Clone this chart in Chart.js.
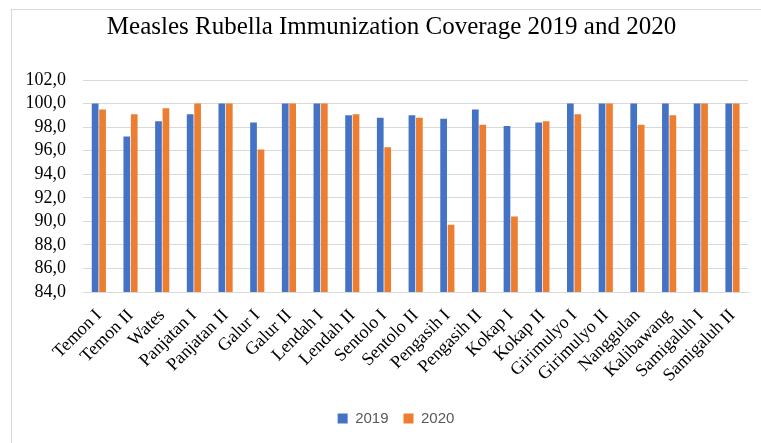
<!DOCTYPE html>
<html>
<head>
<meta charset="utf-8">
<script src="https://cdn.jsdelivr.net/npm/chart.js@4"></script>
<style>
  html, body { margin: 0; padding: 0; background: #fff; }
  #wrap { position: relative; width: 761px; height: 443px; overflow: hidden; }
  #frame { position: absolute; left: 11px; top: 9px; width: 800px; height: 500px; border: 1px solid #d9d9d9; box-sizing: border-box; }
  #title { position: absolute; left: 0; top: 11px; width: 783px; text-align: center; font-family: "Liberation Serif", "Times New Roman", serif; font-size: 25px; line-height: 30px; color: #000; white-space: nowrap; }
  canvas { position: absolute; left: 0; top: 0; }
</style>
</head>
<body>
<div id="wrap">
  <div id="frame"></div>
  <canvas id="c" width="761" height="443"></canvas>
  <div id="title"></div>
</div>
<script>
const chartTitle = 'Measles Rubella Immunization Coverage 2019 and 2020';
const categories = ['Temon I', 'Temon II', 'Wates', 'Panjatan I', 'Panjatan II', 'Galur I', 'Galur II', 'Lendah I', 'Lendah II', 'Sentolo I', 'Sentolo II', 'Pengasih I', 'Pengasih II', 'Kokap I', 'Kokap II', 'Girimulyo I', 'Girimulyo II', 'Nanggulan', 'Kalibawang', 'Samigaluh I', 'Samigaluh II'];
const seriesNames = ['2019', '2020'];
const values2019 = [100, 97.2, 98.5, 99.1, 100, 98.4, 100, 100, 99.0, 98.8, 99.0, 98.7, 99.5, 98.1, 98.4, 100, 100, 100, 100, 100, 100];
const values2020 = [99.5, 99.1, 99.6, 100, 100, 96.1, 100, 100, 99.1, 96.3, 98.8, 89.7, 98.2, 90.4, 98.5, 99.1, 100, 98.2, 99.0, 100, 100];
const yTickValues = [84, 86, 88, 90, 92, 94, 96, 98, 100, 102];
const yTickLabels = ['84,0', '86,0', '88,0', '90,0', '92,0', '94,0', '96,0', '98,0', '100,0', '102,0'];

document.getElementById('title').textContent = chartTitle;

const shiftLegend = {
  id: 'shiftLegend',
  afterLayout(chart) {
    if (chart.legend) { chart.legend.left += 15; chart.legend.right += 15; }
  }
};

new Chart(document.getElementById('c'), {
  type: 'bar',
  data: {
    labels: categories,
    datasets: [
      { label: seriesNames[0], data: values2019, backgroundColor: '#4472C4', borderWidth: 0,
        barPercentage: 0.9, categoryPercentage: 0.47 },
      { label: seriesNames[1], data: values2020, backgroundColor: '#ED7D31', borderWidth: 0,
        barPercentage: 0.9, categoryPercentage: 0.47 }
    ]
  },
  plugins: [shiftLegend],
  options: {
    responsive: false,
    animation: false,
    devicePixelRatio: 1,
    layout: { padding: { left: 11, right: 10, top: 80, bottom: 7 } },
    plugins: {
      tooltip: { enabled: false },
      title: { display: false },
      legend: {
        position: 'bottom',
        labels: {
          color: '#595959',
          font: { family: '"Liberation Sans", Arial, sans-serif', size: 15 },
          boxWidth: 10, boxHeight: 10, padding: 15
        }
      }
    },
    scales: {
      x: {
        grid: { display: false, drawTicks: false },
        border: { display: true, color: '#d9d9d9' },
        ticks: {
          color: '#000',
          font: { family: '"Liberation Serif", "Times New Roman", serif', size: 18 },
          minRotation: 45, maxRotation: 45, autoSkip: false, padding: 13
        },
        afterFit: (axis) => { axis.height = 104; }
      },
      y: {
        min: 84, max: 102,
        afterBuildTicks: (axis) => { axis.ticks = yTickValues.map(v => ({ value: v })); },
        grid: { color: '#d9d9d9', drawTicks: false },
        border: { display: false },
        ticks: {
          color: '#000',
          autoSkip: false,
          font: { family: '"Liberation Serif", "Times New Roman", serif', size: 18 },
          padding: 17,
          callback: (v) => { const i = yTickValues.indexOf(v); return i >= 0 ? yTickLabels[i] : ''; }
        },
        afterFit: (axis) => { axis.width = 72; }
      }
    }
  }
});
</script>
</body>
</html>
